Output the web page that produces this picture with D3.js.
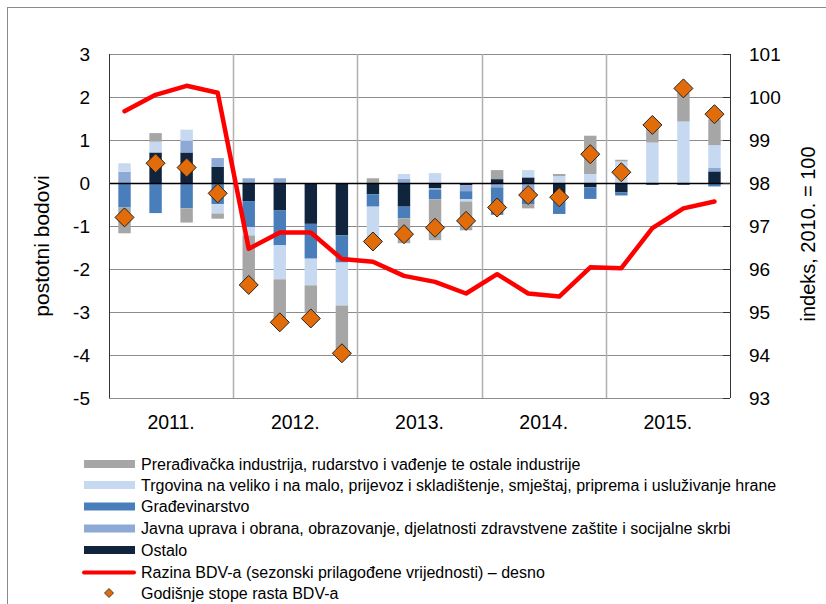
<!DOCTYPE html>
<html>
<head>
<meta charset="utf-8">
<script src="https://cdn.jsdelivr.net/npm/d3@7"></script>
<style>
  html, body { margin: 0; padding: 0; background: #fff; }
  svg { display: block; font-family: "Liberation Sans", Arial, sans-serif; }
</style>
</head>
<body>
<svg id="chart" width="826" height="604"></svg>
<script>
// ---------- DATA ----------
const quarters = ["2011Q1","2011Q2","2011Q3","2011Q4","2012Q1","2012Q2","2012Q3","2012Q4",
                  "2013Q1","2013Q2","2013Q3","2013Q4","2014Q1","2014Q2","2014Q3","2014Q4",
                  "2015Q1","2015Q2","2015Q3","2015Q4"];
const years = ["2011.","2012.","2013.","2014.","2015."];

const seriesNames = [
  "Prerađivačka industrija, rudarstvo i vađenje te ostale industrije",
  "Trgovina na veliko i na malo, prijevoz i skladištenje, smještaj, priprema i usluživanje hrane",
  "Građevinarstvo",
  "Javna uprava i obrana, obrazovanje, djelatnosti zdravstvene zaštite i socijalne skrbi",
  "Ostalo"
];
const preradivacka = [-0.60, 0.20,-0.33,-0.12,-1.10,-0.98,-0.64,-1.02, 0.11,-0.58,-0.95,-0.67, 0.21,-0.10, 0.05, 0.89, 0.04, 0.42, 0.66, 0.60];
const trgovina     = [ 0.20, 0.25, 0.26,-0.22,-0.19,-0.79,-0.62,-1.00,-0.74, 0.11, 0.23,-0.05, 0.00, 0.17, 0.16, 0.21, 0.50, 0.94, 1.43, 0.53];
const gradjevina   = [-0.57,-0.70,-0.59,-0.49,-0.61,-0.81,-0.81,-0.63,-0.29,-0.27,-0.22,-0.19,-0.64,-0.33,-0.48,-0.27,-0.07, 0.00, 0.00,-0.08];
const javna        = [ 0.26, 0.00, 0.27, 0.20, 0.11, 0.11, 0.00, 0.00, 0.00, 0.10,-0.04,-0.14,-0.10,-0.16, 0.00, 0.00, 0.00, 0.00, 0.00, 0.08];
const ostalo       = [ 0.00, 0.71, 0.71, 0.38,-0.42,-0.64,-0.95,-1.22,-0.26,-0.55,-0.12,-0.05, 0.09, 0.13,-0.24,-0.10,-0.22,-0.04,-0.04, 0.27];

const godisnjeStope = [-0.80, 0.46, 0.36,-0.24,-2.37,-3.24,-3.15,-3.96,-1.36,-1.19,-1.04,-0.88,-0.57,-0.28,-0.33, 0.67, 0.25, 1.35, 2.20, 1.60];
const razinaBDV     = [99.67,100.05,100.26,100.10,96.47,96.85,96.85,96.23,96.17,95.84,95.70,95.43,95.88,95.43,95.36,96.04,96.02,96.95,97.41,97.57];

const leftTicks  = [3,2,1,0,-1,-2,-3,-4,-5];
const rightTicks = [101,100,99,98,97,96,95,94,93];
const leftTitle  = "postotni bodovi";
const rightTitle = "indeks, 2010. = 100";
const lineLabel  = "Razina BDV-a (sezonski prilagođene vrijednosti) – desno";
const dotLabel   = "Godišnje stope rasta BDV-a";

// ---------- STYLE ----------
const colors = {
  preradivacka: "#A6A6A6",
  trgovina: "#C6D9F1",
  gradjevina: "#4A7EBB",
  javna: "#8DA9D6",
  ostalo: "#10243E"
};
const plot = { left: 109, right: 730, top: 54, bottom: 398 };

const svg = d3.select("#chart");

// frame
svg.append("rect").attr("x", 7.5).attr("y", 7.5).attr("width", 840).attr("height", 640)
  .attr("fill", "none").attr("stroke", "#8a8a8a").attr("stroke-width", 1);

// scales
const x = d3.scaleBand().domain(quarters).range([plot.left, plot.right]).paddingInner(0.6).paddingOuter(0.3);
const xYear = d3.scaleBand().domain(years).range([plot.left, plot.right]);
const y = d3.scaleLinear().domain([-5, 3]).range([plot.bottom, plot.top]);
const y2 = d3.scaleLinear().domain([93, 101]).range([plot.bottom, plot.top]);

// horizontal gridlines
svg.append("g").selectAll("line").data(leftTicks).join("line")
  .attr("x1", plot.left).attr("x2", plot.right)
  .attr("y1", d => Math.round(y(d)) + 0.5).attr("y2", d => Math.round(y(d)) + 0.5)
  .attr("stroke", "#8c8c8c").attr("stroke-width", 1);

// vertical year gridlines
svg.append("g").selectAll("line").data(years.slice(1)).join("line")
  .attr("x1", d => Math.round(xYear(d)) + 0.5).attr("x2", d => Math.round(xYear(d)) + 0.5)
  .attr("y1", plot.top).attr("y2", plot.bottom)
  .attr("stroke", "#b0b0b0").attr("stroke-width", 1.5);

// stacked bars (stack order from zero: ostalo, javna, gradjevina, trgovina, preradivacka)
const table = quarters.map((q, i) => ({
  q, ostalo: ostalo[i], javna: javna[i], gradjevina: gradjevina[i],
  trgovina: trgovina[i], preradivacka: preradivacka[i]
}));
const keys = ["ostalo", "javna", "gradjevina", "trgovina", "preradivacka"];
const stack = d3.stack().keys(keys).offset(d3.stackOffsetDiverging);
const stacked = stack(table);

svg.append("g").selectAll("g").data(stacked).join("g")
  .attr("fill", d => colors[d.key])
  .selectAll("rect").data(d => d).join("rect")
  .attr("x", d => x(d.data.q))
  .attr("width", x.bandwidth())
  .attr("y", d => y(Math.max(d[0], d[1])))
  .attr("height", d => Math.abs(y(d[0]) - y(d[1])));

// zero line
svg.append("line").attr("x1", plot.left).attr("x2", plot.right)
  .attr("y1", Math.round(y(0)) + 0.5).attr("y2", Math.round(y(0)) + 0.5)
  .attr("stroke", "#000").attr("stroke-width", 1.3);

// axis lines
svg.append("line").attr("x1", plot.left + 0.5).attr("x2", plot.left + 0.5)
  .attr("y1", plot.top).attr("y2", plot.bottom).attr("stroke", "#333");
svg.append("line").attr("x1", plot.right + 0.5).attr("x2", plot.right + 0.5)
  .attr("y1", plot.top).attr("y2", plot.bottom).attr("stroke", "#333");
// right inward ticks
svg.append("g").selectAll("line").data(rightTicks).join("line")
  .attr("x1", plot.right - 7).attr("x2", plot.right)
  .attr("y1", d => Math.round(y2(d)) + 0.5).attr("y2", d => Math.round(y2(d)) + 0.5)
  .attr("stroke", "#333");

// red level line (right axis)
const line = d3.line().x((d, i) => x(quarters[i]) + x.bandwidth() / 2).y(d => y2(d));
svg.append("path").datum(razinaBDV).attr("d", line)
  .attr("fill", "none").attr("stroke", "#FF0000").attr("stroke-width", 4.5)
  .attr("stroke-linejoin", "round").attr("stroke-linecap", "round");

// diamonds
const dsz = 9.5;
svg.append("g").selectAll("path").data(godisnjeStope).join("path")
  .attr("d", (d, i) => {
    const cx = x(quarters[i]) + x.bandwidth() / 2, cy = y(d);
    return `M${cx},${cy - dsz}L${cx + dsz},${cy}L${cx},${cy + dsz}L${cx - dsz},${cy}Z`;
  })
  .attr("fill", "#E36C0A").attr("stroke", "#222").attr("stroke-width", 1);

// left tick labels
svg.append("g").selectAll("text").data(leftTicks).join("text")
  .attr("x", 90).attr("y", d => y(d)).attr("dy", "0.36em")
  .attr("text-anchor", "end").attr("font-size", 19).attr("fill", "#000")
  .text(d => d);
// right tick labels
svg.append("g").selectAll("text").data(rightTicks).join("text")
  .attr("x", 749).attr("y", d => y2(d)).attr("dy", "0.36em")
  .attr("text-anchor", "start").attr("font-size", 19).attr("fill", "#000")
  .text(d => d);
// year labels
svg.append("g").selectAll("text").data(years).join("text")
  .attr("x", d => xYear(d) + xYear.bandwidth() / 2).attr("y", 422).attr("dy", "0.36em")
  .attr("text-anchor", "middle").attr("font-size", 19.5).attr("fill", "#000")
  .text(d => d);

// axis titles
svg.append("text").attr("transform", "translate(42,246) rotate(-90)")
  .attr("text-anchor", "middle").attr("dy", "0.35em").attr("font-size", 21).text(leftTitle);
svg.append("text").attr("transform", "translate(808,234) rotate(-90)")
  .attr("text-anchor", "middle").attr("dy", "0.35em").attr("font-size", 20).text(rightTitle);

// legend
const legendRows = [
  { label: seriesNames[0], type: "bar", color: colors.preradivacka, y: 464 },
  { label: seriesNames[1], type: "bar", color: colors.trgovina, y: 485 },
  { label: seriesNames[2], type: "bar", color: colors.gradjevina, y: 506.5 },
  { label: seriesNames[3], type: "bar", color: colors.javna, y: 528.5 },
  { label: seriesNames[4], type: "bar", color: colors.ostalo, y: 550 },
  { label: lineLabel, type: "line", color: "#FF0000", y: 572.5 },
  { label: dotLabel, type: "dot", color: "#E36C0A", y: 593 }
];
const lg = svg.append("g");
legendRows.forEach(r => {
  if (r.type === "bar") {
    lg.append("rect").attr("x", 84).attr("y", r.y - 4).attr("width", 51).attr("height", 8).attr("fill", r.color);
  } else if (r.type === "line") {
    lg.append("line").attr("x1", 84).attr("x2", 134).attr("y1", r.y).attr("y2", r.y)
      .attr("stroke", r.color).attr("stroke-width", 4).attr("stroke-linecap", "round");
  } else {
    const s = 4.5, cx = 109, cy = r.y;
    lg.append("path").attr("d", `M${cx},${cy - s}L${cx + s},${cy}L${cx},${cy + s}L${cx - s},${cy}Z`)
      .attr("fill", r.color).attr("stroke", "#222").attr("stroke-width", 0.8);
  }
  lg.append("text").attr("x", 141).attr("y", r.y).attr("dy", "0.36em")
    .attr("font-size", 16).attr("fill", "#000").text(r.label);
});
</script>
</body>
</html>
